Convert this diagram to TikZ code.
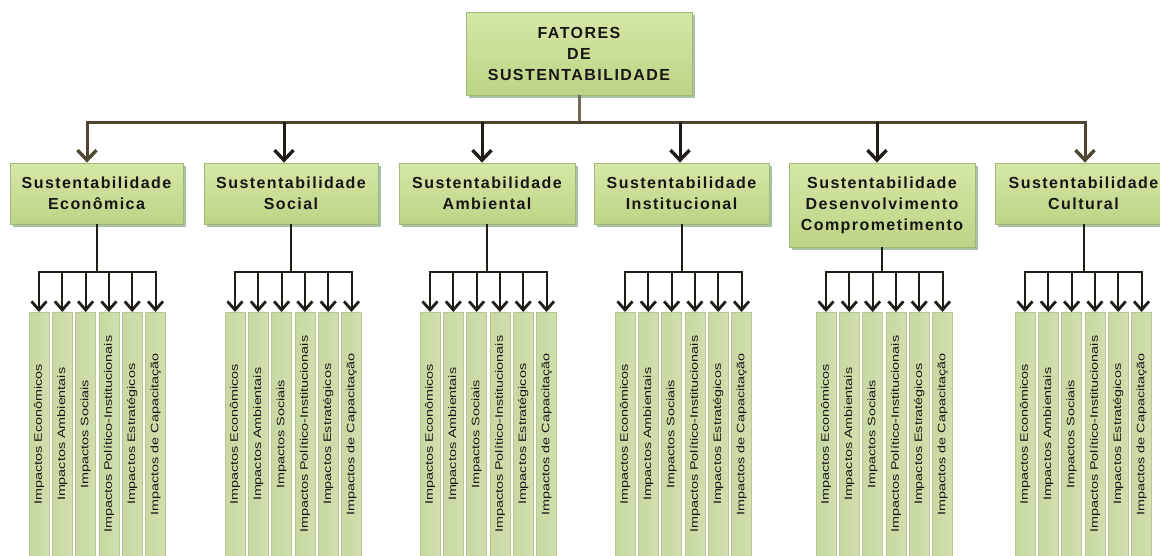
\documentclass[tikz,border=0pt]{standalone}
\usepackage{fontspec}
\usepackage{graphicx}
\setmainfont{Liberation Sans}
\newfontfamily\headfont{Liberation Sans}[LetterSpace=9]
\usetikzlibrary{arrows.meta,shadows,calc}

\definecolor{boxtop}{HTML}{D5E7A6}
\definecolor{boxbot}{HTML}{BDD486}
\definecolor{boxline}{HTML}{A3B876}
\definecolor{colL}{HTML}{C7D8A0}
\definecolor{colM}{HTML}{ECF3D8}
\definecolor{colR}{HTML}{D0DFAE}
\definecolor{colline}{HTML}{B6C993}
\definecolor{linkolive}{HTML}{4E4630}
\definecolor{linkdark}{HTML}{1F1D15}
\definecolor{txt}{HTML}{161616}

\newcommand\impactlist{1/Impactos Econômicos,2/Impactos Ambientais,3/Impactos Sociais,4/Impactos Político-Institucionais,5/Impactos Estratégicos,6/Impactos de Capacitação}

\begin{document}
\begin{tikzpicture}[x=1pt,y=1pt,
  box/.style={draw=boxline, line width=0.8pt, top color=boxtop, bottom color=boxbot,
    drop shadow={shadow xshift=2.5pt, shadow yshift=-2.5pt, fill=black!70!green, opacity=0.35},
    font=\headfont\bfseries\fontsize{16}{21}\selectfont, text=txt, align=center, inner sep=0pt},
  col/.style={draw=colline, line width=0.6pt, left color=colL, middle color=colM, right color=colR,
    minimum width=20pt, minimum height=244pt, inner sep=0pt, anchor=north},
  impact/.style={rotate=90, font=\fontsize{10.8}{12}\selectfont, text=txt, inner sep=0pt},
  bartop/.style={line width=3pt, draw=linkolive},
  tipbig/.style={-{Straight Barb[length=10pt,width=19pt,line width=3.4pt]}, line width=3pt},
  lowline/.style={line width=2pt, draw=linkdark},
  tipsmall/.style={-{Straight Barb[length=8.5pt,width=15pt,line width=2.8pt]}, line width=2pt, draw=linkdark},
]
\useasboundingbox (0,0) rectangle (1160,-555);
\clip (0,0) rectangle (1160,-555);

% root
\node[box, minimum width=226pt, minimum height=83pt] (top) at (579,-53.5)
  {FATORES\\DE\\SUSTENTABILIDADE};

% second level
\node[box, minimum width=173pt, minimum height=61pt] (s1) at (96.5,-193.5) {Sustentabilidade\\Econômica};
\node[box, minimum width=174pt, minimum height=61pt] (s2) at (291,-193.5) {Sustentabilidade\\Social};
\node[box, minimum width=176pt, minimum height=61pt] (s3) at (487,-193.5) {Sustentabilidade\\Ambiental};
\node[box, minimum width=175pt, minimum height=61pt] (s4) at (681.5,-193.5) {Sustentabilidade\\Institucional};
\node[box, minimum width=186pt, minimum height=84pt] (s5) at (882,-205) {Sustentabilidade\\Desenvolvimento\\Comprometimento};
\node[box, minimum width=177pt, minimum height=61pt] (s6) at (1083.5,-193.5) {Sustentabilidade\\Cultural};

% root connectors
\coordinate (hub) at (579,-122);
\foreach \i/\ax in {1/87,2/284,3/482,4/680,5/877,6/1085}
  \coordinate (a\i) at (\ax,-122);
\draw[line width=3pt, draw=linkolive!80!white] (top.south) -- (hub);
\draw[bartop, line cap=rect] (a1) -- (a6);
\draw[tipbig, draw=linkolive] (a1) -- (a1 |- s1.north);
\draw[tipbig, draw=linkolive] (a6) -- (a6 |- s6.north);
\foreach \i in {2,3,4,5}
  \draw[tipbig, draw=linkdark] (a\i) -- (a\i |- s\i.north);

% third level: impact columns with their connectors
\coordinate (lv) at (0,-272);
\foreach \g/\gx in {1/39,2/235,3/430,4/625,5/826,6/1025}{
  \foreach \j/\lbl in \impactlist{
    \node[col, label={[impact]center:{\scalebox{1.33}[1]{\lbl}}}] (c\g\j)
      at ({\gx+(\j-1)*23.3},-312) {};
  }
  \draw[lowline] (s\g.south) -- (s\g.south |- lv);
  \draw[lowline, line cap=rect] (c\g1.north |- lv) -- (c\g6.north |- lv);
  \foreach \j in {1,...,6}
    \draw[tipsmall] (c\g\j.north |- lv) -- (c\g\j.north);
}
\end{tikzpicture}
\end{document}
